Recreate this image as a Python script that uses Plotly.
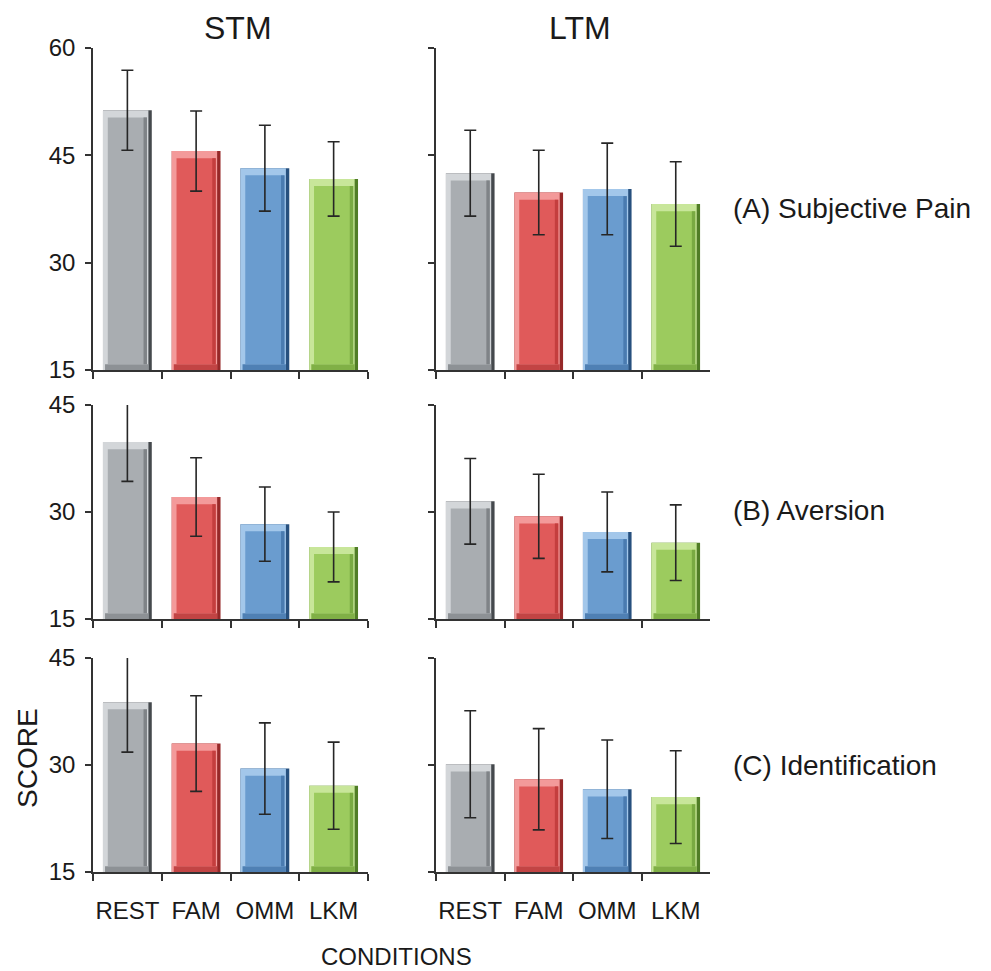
import plotly.graph_objects as go

categories = ["REST", "FAM", "OMM", "LKM"]

stm_pain = [51.3, 45.6, 43.2, 41.7]
stm_pain_err = [5.6, 5.6, 6.0, 5.2]
ltm_pain = [42.5, 39.8, 40.3, 38.2]
ltm_pain_err = [6.0, 5.9, 6.4, 5.9]

stm_aversion = [39.8, 32.1, 28.3, 25.1]
stm_aversion_err = [5.5, 5.5, 5.2, 4.9]
ltm_aversion = [31.5, 29.4, 27.2, 25.7]
ltm_aversion_err = [6.0, 5.9, 5.6, 5.3]

stm_ident = [38.8, 33.0, 29.5, 27.1]
stm_ident_err = [7.0, 6.7, 6.4, 6.1]
ltm_ident = [30.1, 28.0, 26.6, 25.5]
ltm_ident_err = [7.5, 7.1, 6.9, 6.5]

row_labels = ["(A) Subjective Pain", "(B) Aversion", "(C) Identification"]
col_titles = ["STM", "LTM"]
y_ranges = [[15, 60], [15, 45], [15, 45]]
y_ticks = [[15, 30, 45, 60], [15, 30, 45], [15, 30, 45]]

body = ["#a9adb1", "#e05a5a", "#6a9ccf", "#9ccb5e"]
light = ["#d3d6d9", "#f39a9a", "#a3c7ea", "#c8e69a"]
shade = ["#7f8387", "#c43e3e", "#4a7bb0", "#79aa42"]
dark = ["#45494d", "#962828", "#27507e", "#507d26"]
bottom = ["#8d9195", "#c24444", "#4f80b4", "#80b046"]

FONT = "Liberation Sans, Arial, Helvetica, sans-serif"
W, H = 991, 971

panels = [
    (stm_pain, stm_pain_err), (ltm_pain, ltm_pain_err),
    (stm_aversion, stm_aversion_err), (ltm_aversion, ltm_aversion_err),
    (stm_ident, stm_ident_err), (ltm_ident, ltm_ident_err),
]

x_dom = [[93 / W, 368 / W], [436 / W, 710 / W]]
y_pix = [(48, 370), (405, 619), (658, 872)]
y_dom = [[(H - b) / H, (H - t) / H] for t, b in y_pix]

fig = go.Figure()
BW = 0.71
half = BW / 2
side = 0.07
layout_axes = {}


def add_bar(vals_h, base, width, offset, colors, xa, ya):
    fig.add_trace(go.Bar(x=categories, y=vals_h, base=base, width=width, offset=offset,
                         marker=dict(color=colors, line=dict(width=0)),
                         xaxis=xa, yaxis=ya, showlegend=False, hoverinfo="skip"))


for idx, (vals, errs) in enumerate(panels):
    r, c = divmod(idx, 2)
    n = idx + 1
    xa = "x" if n == 1 else f"x{n}"
    ya = "y" if n == 1 else f"y{n}"
    lo = y_ranges[r][0]
    topb = 1.0
    botb = 0.8
    full = [v - lo for v in vals]
    # dark full bar (right edge)
    add_bar(full, [lo] * 4, BW, -half, dark, xa, ya)
    # light left + top bevel
    add_bar(full, [lo] * 4, BW - side * 0.7, -half, light, xa, ya)
    # bottom bevel
    add_bar([botb] * 4, [lo] * 4, BW - side * 0.7 - 0.03, -half + 0.03, bottom, xa, ya)
    # body
    inner = [v - lo - topb - botb for v in vals]
    add_bar(inner, [lo + botb] * 4, BW - 2 * side, -half + side, body, xa, ya)
    # shading toward right edge of body
    add_bar(inner, [lo + botb] * 4, 0.05, half - side - 0.05, shade, xa, ya)
    # error bars
    fig.add_trace(go.Scatter(x=categories, y=vals, mode="markers",
                             marker=dict(size=1, opacity=0),
                             error_y=dict(type="data", array=errs, visible=True,
                                          color="#262626", thickness=1.6, width=6),
                             xaxis=xa, yaxis=ya, showlegend=False, hoverinfo="skip"))

    xkey = "xaxis" if n == 1 else f"xaxis{n}"
    ykey = "yaxis" if n == 1 else f"yaxis{n}"
    layout_axes[xkey] = dict(
        domain=x_dom[c], anchor=ya, type="category", range=[-0.5, 3.5],
        showline=True, linecolor="#333333", linewidth=1.5, mirror=False,
        ticks="outside", ticklen=7, tickwidth=1.5, tickcolor="#333333",
        tickson="boundaries", showgrid=False, zeroline=False, automargin=False,
        showticklabels=(r == 2), ticklabelstandoff=16, tickangle=0,
        tickfont=dict(family=FONT, size=24, color="#1a1a1a"),
    )
    layout_axes[ykey] = dict(
        domain=y_dom[r], anchor=xa, range=y_ranges[r], tickvals=y_ticks[r],
        showline=True, linecolor="#333333", linewidth=1.5,
        ticks="outside", ticklen=6, tickwidth=1.5, tickcolor="#333333",
        showgrid=False, zeroline=False, showticklabels=(c == 0), automargin=False,
        ticklabelstandoff=5,
        tickfont=dict(family=FONT, size=24, color="#1a1a1a"),
    )

annotations = []
for c, t in enumerate(col_titles):
    xc = [238, 580][c]
    annotations.append(dict(text=t, x=xc / W, y=1 - 28 / H, xref="paper", yref="paper",
                            showarrow=False, xanchor="center", yanchor="middle",
                            font=dict(family=FONT, size=32, color="#1a1a1a")))
for r, lab in enumerate(row_labels):
    yc = [208, 510, 765][r]
    annotations.append(dict(text=lab, x=731 / W, y=1 - yc / H, xref="paper", yref="paper",
                            showarrow=False, xanchor="left", yanchor="middle",
                            font=dict(family=FONT, size=28, color="#1a1a1a")))
annotations.append(dict(text="CONDITIONS", x=396 / W, y=0, xref="paper", yref="paper",
                        showarrow=False, xanchor="center", yanchor="bottom", borderpad=0,
                        font=dict(family=FONT, size=24, color="#1a1a1a")))
annotations.append(dict(text="SCORE", x=27 / W, y=1 - 758 / H, xref="paper", yref="paper",
                        showarrow=False, xanchor="center", yanchor="middle", textangle=-90,
                        font=dict(family=FONT, size=28, color="#1a1a1a")))

fig.update_layout(
    width=W, height=H, margin=dict(l=0, r=0, t=0, b=0, autoexpand=False),
    paper_bgcolor="white", plot_bgcolor="white",
    barmode="overlay", annotations=annotations, **layout_axes,
)

fig.write_html("out.html")
